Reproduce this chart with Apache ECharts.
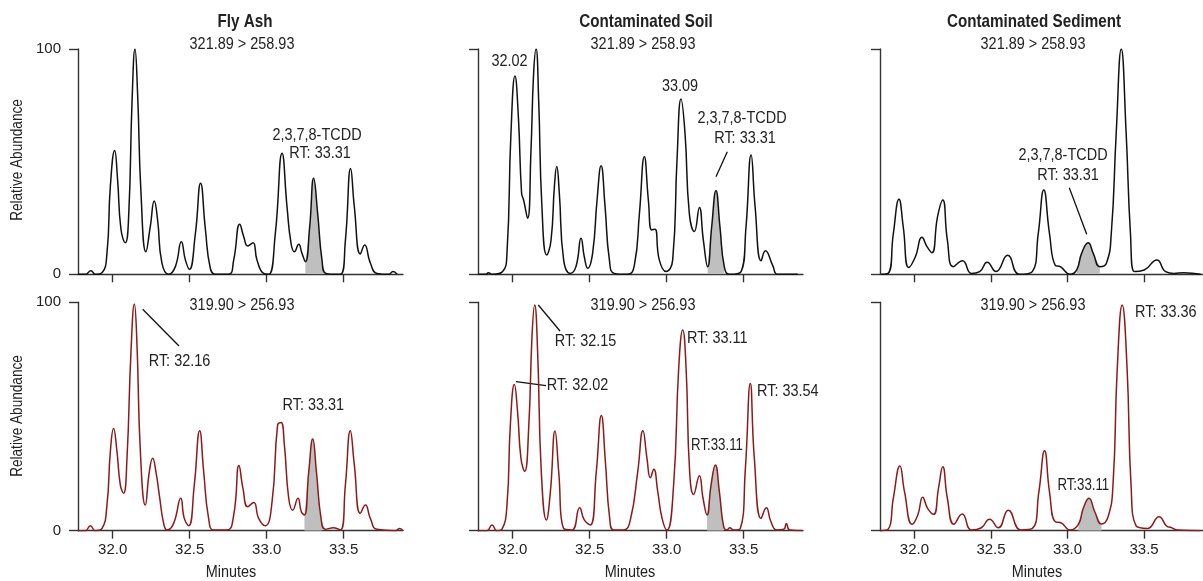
<!DOCTYPE html>
<html>
<head>
  <meta charset="utf-8">
  <title>TCDD chromatograms</title>
  <script src="https://cdn.jsdelivr.net/npm/echarts@6/dist/echarts.min.js"></script>
</head>
<body style="margin:0">
  <div id="main" style="width:1203px;height:581px;"></div>
  <script type="text/javascript">
    // [retention time (min), relative abundance]
    var flyAsh322 = [[31.775,0],[31.823,0],[31.859,1.6],[31.887,0],[31.931,0.7],[31.963,9.3],[31.985,39],[32.013,55],[32.032,42],[32.054,20],[32.082,14],[32.104,26],[32.126,77],[32.145,100],[32.162,80],[32.184,36],[32.216,10],[32.244,21],[32.27,32.5],[32.292,24],[32.32,5],[32.364,0],[32.407,3.4],[32.446,14.5],[32.472,6.4],[32.498,2.2],[32.537,18],[32.571,40.4],[32.602,20],[32.634,2.7],[32.667,0],[32.753,0],[32.786,6.4],[32.825,22.2],[32.851,16.7],[32.877,12.6],[32.911,14],[32.937,6.4],[32.98,0.4],[33.013,0],[33.056,18],[33.1,53.7],[33.132,30],[33.158,13.8],[33.18,10],[33.208,13.3],[33.229,9.3],[33.251,5.6],[33.279,21],[33.305,42.6],[33.331,27],[33.359,6.4],[33.385,0.4],[33.478,0],[33.511,15],[33.545,47],[33.569,30],[33.608,9],[33.636,13],[33.673,5],[33.716,0.4],[33.792,0],[33.82,1.2],[33.846,0]];
    var soil322 = [[31.779,0],[31.827,0],[31.842,0.7],[31.87,0],[31.935,1.2],[31.963,9.3],[31.989,62.6],[32.015,88],[32.037,70],[32.058,36],[32.071,33],[32.097,24.9],[32.119,55],[32.136,89],[32.152,100],[32.169,77],[32.19,30],[32.221,8.6],[32.249,15],[32.271,39],[32.286,47.8],[32.303,36],[32.331,6.4],[32.374,0.4],[32.411,3.4],[32.444,16],[32.465,7.8],[32.487,2.7],[32.519,9.3],[32.548,33],[32.574,48.2],[32.6,30],[32.628,6.4],[32.66,0.4],[32.747,0],[32.79,4],[32.823,27],[32.855,52.2],[32.881,33],[32.903,19.7],[32.924,20],[32.952,6.4],[32.996,1.2],[33.039,6.4],[33.067,50.7],[33.093,77.8],[33.119,62.6],[33.147,27],[33.18,19],[33.212,29.7],[33.238,15.2],[33.266,3.4],[33.292,21],[33.32,37.1],[33.346,21],[33.374,3.4],[33.407,0],[33.483,1.2],[33.515,21],[33.548,53],[33.574,30],[33.613,6],[33.641,10.5],[33.688,4],[33.721,0],[33.851,0]];
    var sediment322 = [[31.781,0],[31.828,0.4],[31.862,18],[31.899,33.3],[31.927,21],[31.963,3],[32.006,7.8],[32.049,16.4],[32.082,12.3],[32.114,9.6],[32.151,25.6],[32.185,33],[32.215,15.2],[32.254,3.4],[32.314,6],[32.372,0.4],[32.426,1.2],[32.475,5.3],[32.533,1.2],[32.609,8.4],[32.684,0],[32.77,1.2],[32.809,18.2],[32.845,37.4],[32.882,18.2],[32.92,4],[32.953,3.4],[33.017,0],[33.06,2],[33.092,9.3],[33.135,14],[33.168,9.3],[33.211,3.4],[33.254,4.9],[33.286,18.2],[33.318,62.6],[33.351,100],[33.383,62.6],[33.411,18.2],[33.437,1.2],[33.501,1.9],[33.583,6.4],[33.641,1.2],[33.695,0.4],[33.759,0.7],[33.87,0]];
    var flyAsh320 = [[31.775,0],[31.823,0],[31.855,2.2],[31.887,0],[31.931,1],[31.963,11.2],[31.985,34.6],[32.006,44.8],[32.028,34.6],[32.05,20],[32.071,16.4],[32.093,31.7],[32.119,78.4],[32.141,99.3],[32.158,81.3],[32.18,34.6],[32.212,11.2],[32.238,25.8],[32.26,31.7],[32.281,25.8],[32.303,15.6],[32.331,3.2],[32.353,0.3],[32.396,3.2],[32.442,14.2],[32.465,5.4],[32.494,2.2],[32.53,20],[32.565,43.8],[32.591,25.8],[32.623,5.4],[32.656,0.3],[32.742,0.3],[32.786,6.9],[32.82,28.5],[32.846,18.5],[32.877,10.5],[32.916,12.4],[32.948,5.4],[32.991,2.2],[33.035,12.7],[33.071,46.3],[33.093,47.4],[33.115,37.5],[33.143,14.2],[33.169,9],[33.203,14.2],[33.225,8.3],[33.245,6.9],[33.273,25.8],[33.299,40.1],[33.323,25.8],[33.353,5.4],[33.381,0.6],[33.435,1.3],[33.478,0.3],[33.511,20],[33.543,43.8],[33.569,28.8],[33.608,7.6],[33.641,11.2],[33.673,5.4],[33.716,0.6],[33.835,0],[33.864,1],[33.885,0]];
    var soil320 = [[31.775,0],[31.833,0],[31.866,2.5],[31.898,0],[31.931,0.7],[31.963,11.2],[31.985,46.3],[32.011,64],[32.032,52],[32.054,31.7],[32.078,26],[32.104,44.8],[32.126,85.7],[32.143,98.8],[32.162,78.4],[32.186,25.8],[32.219,4.7],[32.245,17.1],[32.275,43.6],[32.299,25.8],[32.331,1],[32.385,0.3],[32.435,10],[32.465,4.7],[32.504,2.5],[32.543,25.8],[32.576,50.4],[32.602,30.2],[32.63,5.4],[32.656,0.3],[32.721,0.3],[32.764,4.7],[32.812,25.8],[32.846,43.8],[32.872,31.7],[32.894,23.2],[32.916,26.9],[32.942,17.1],[32.97,5.4],[33.002,0.3],[33.045,20],[33.078,71.1],[33.104,87.9],[33.126,71.1],[33.149,25.8],[33.175,15.9],[33.212,24.1],[33.236,14.2],[33.262,6.9],[33.288,20],[33.316,28.8],[33.342,17.1],[33.37,1.8],[33.392,0.3],[33.409,1.3],[33.435,0.3],[33.478,1],[33.511,27.3],[33.543,64.4],[33.569,31.7],[33.613,5.4],[33.647,10],[33.677,3.9],[33.716,0.3],[33.76,0.6],[33.777,3.2],[33.799,0.3],[33.885,0]];
    var sediment320 = [[31.781,0],[31.828,0.6],[31.862,14.2],[31.905,28.3],[31.935,17.1],[31.985,2.8],[32.022,6.9],[32.054,14.6],[32.086,9.8],[32.125,7.2],[32.157,18.5],[32.185,28],[32.215,14.2],[32.258,2.8],[32.312,7.3],[32.372,0.3],[32.437,1.3],[32.49,5],[32.548,1.3],[32.613,9],[32.695,0.3],[32.77,1],[32.813,17.1],[32.85,35],[32.882,17.1],[32.92,3.9],[32.953,3.6],[33.017,0.3],[33.071,2.8],[33.103,9.8],[33.14,14.2],[33.178,8.3],[33.222,2.9],[33.265,6.1],[33.297,20],[33.325,71.1],[33.357,98.8],[33.389,71.1],[33.415,20],[33.447,2.2],[33.523,1],[33.598,6.1],[33.652,1.8],[33.673,1.5],[33.716,0.3],[33.87,0]];

    // integrated TCDD window (min) for each trace
    var flyAsh322Shade = [33.251, 33.385];
    var soil322Shade = [33.266, 33.374];
    var sediment322Shade = [33.06, 33.211];
    var flyAsh320Shade = [33.245, 33.381];
    var soil320Shade = [33.262, 33.37];
    var sediment320Shade = [33.071, 33.222];

    var xTicks = [32.0, 32.5, 33.0, 33.5];
    var yTicks = [0, 100];
    var samples = ['Fly Ash', 'Contaminated Soil', 'Contaminated Sediment'];
    var transitions = ['321.89 > 258.93', '319.90 > 256.93'];

    var traces = [flyAsh322, soil322, sediment322, flyAsh320, soil320, sediment320];
    var shades = [flyAsh322Shade, soil322Shade, sediment322Shade, flyAsh320Shade, soil320Shade, sediment320Shade];

    var FONT = "'Liberation Sans', Arial, sans-serif";
    var AXIS = '#333';
    var lefts = [78, 478, 880];

    var myChart = echarts.init(document.getElementById('main'));

    var grid = [], xAxis = [], yAxis = [], series = [];
    traces.forEach(function (d, i) {
      var row = Math.floor(i / 3), col = i % 3;
      grid.push({ left: lefts[col], top: row ? 302.3 : 49, width: 325, height: row ? 228.4 : 225.3 });
      xAxis.push({
        gridIndex: i, type: 'value', min: 31.775, max: 33.885,
        axisLine: { lineStyle: { color: AXIS, width: 1.4 } },
        axisTick: { customValues: xTicks, length: 8, lineStyle: { color: AXIS, width: 1.4 } },
        axisLabel: {
          show: row === 1, customValues: xTicks, margin: 12,
          fontFamily: FONT, fontSize: 15, color: '#222',
          formatter: function (v) { return v.toFixed(1); }
        },
        splitLine: { show: false }
      });
      yAxis.push({
        gridIndex: i, type: 'value', min: 0, max: 100,
        axisLine: { show: true, lineStyle: { color: AXIS, width: 1.4 } },
        axisTick: { show: true, customValues: yTicks, length: 9, lineStyle: { color: AXIS, width: 1.4 } },
        axisLabel: { show: col === 0, customValues: yTicks, margin: 17, fontFamily: FONT, fontSize: 15, color: '#222' },
        splitLine: { show: false }
      });
      series.push({
        type: 'line', xAxisIndex: i, yAxisIndex: i, data: d, smooth: 0.5,
        showSymbol: false, silent: true, z: 3,
        lineStyle: { color: row ? '#8b1a1a' : '#111', width: 1.5 }
      });
      series.push({
        type: 'line', xAxisIndex: i, yAxisIndex: i, smooth: 0.5,
        data: d.filter(function (p) { return p[0] >= shades[i][0] && p[0] <= shades[i][1]; }),
        showSymbol: false, silent: true, z: 2,
        lineStyle: { width: 0 }, areaStyle: { color: '#bfbfbf', opacity: 1 }
      });
    });

    // condensed look: draw with a normal face squeezed horizontally
    function txt(s, x, y, size, opts) {
      opts = opts || {};
      return {
        type: 'text', x: x, y: y, rotation: opts.rotation || 0, silent: true,
        scaleX: opts.sx || 0.85,
        style: {
          text: s, fill: '#222', align: opts.align || 'center', verticalAlign: 'middle',
          font: (opts.bold ? 'bold ' : '') + size + 'px ' + FONT
        }
      };
    }
    function leader(x1, y1, x2, y2) {
      return { type: 'line', silent: true, shape: { x1: x1, y1: y1, x2: x2, y2: y2 }, style: { stroke: '#111', lineWidth: 1.3 } };
    }

    var graphic = [
      txt(samples[0], 245, 22, 19, { bold: true, sx: 0.8 }),
      txt(samples[1], 646, 22, 19, { bold: true, sx: 0.8 }),
      txt(samples[2], 1034, 22, 19, { bold: true, sx: 0.8 }),
      txt(transitions[0], 242, 44.5, 17),
      txt(transitions[0], 643, 44.5, 17),
      txt(transitions[0], 1033, 44.5, 17),
      txt(transitions[1], 242, 305, 17),
      txt(transitions[1], 643, 305, 17),
      txt(transitions[1], 1033, 305, 17),
      txt('Relative Abundance', 18, 160, 16, { rotation: Math.PI / 2 }),
      txt('Relative Abundance', 18, 416, 16, { rotation: Math.PI / 2 }),
      txt('Minutes', 231, 572, 17),
      txt('Minutes', 630, 572, 17),
      txt('Minutes', 1037, 572, 17),

      // top row annotations
      txt('2,3,7,8-TCDD', 317, 135, 17),
      txt('RT: 33.31', 320, 153, 17),
      txt('32.02', 509.5, 61.5, 17),
      txt('33.09', 680, 86, 17),
      txt('2,3,7,8-TCDD', 742, 118.5, 17),
      txt('RT: 33.31', 745, 138.5, 17),
      leader(727.3, 151.7, 716, 176.7),
      txt('2,3,7,8-TCDD', 1063, 155, 17),
      txt('RT: 33.31', 1068, 175, 17),
      leader(1069.3, 187.7, 1086.7, 234.3),

      // bottom row annotations
      txt('RT: 32.16', 179.5, 361, 17),
      leader(142.7, 309.3, 179, 346),
      txt('RT: 33.31', 313.3, 405.7, 17),
      txt('RT: 32.15', 585.5, 341, 17),
      leader(538.3, 305, 560, 331),
      txt('RT: 32.02', 577.5, 385, 17),
      leader(516, 381.7, 546, 385.7),
      txt('RT: 33.11', 717.3, 338.3, 17),
      txt('RT: 33.54', 787.8, 391.7, 17),
      txt('RT:33.11', 717, 445.7, 17, { sx: 0.78 }),
      txt('RT: 33.36', 1165.8, 312.3, 17),
      txt('RT:33.11', 1083.3, 485, 17, { sx: 0.78 })
    ];

    var option = {
      animation: false,
      backgroundColor: '#fff',
      grid: grid,
      xAxis: xAxis,
      yAxis: yAxis,
      series: series,
      graphic: graphic
    };

    myChart.setOption(option);
  </script>
</body>
</html>
